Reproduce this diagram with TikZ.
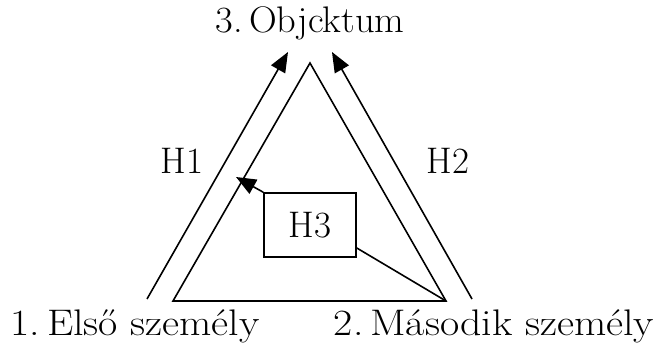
\documentclass[tikz,border=0pt]{standalone}
\usetikzlibrary{arrows.meta}
\begin{document}
\begin{tikzpicture}[x=1pt,y=1pt,
  line/.style={line width=1.6pt},
  arr/.style={line width=1.6pt,-{Triangle[length=20pt,width=16pt]}},
  lbl/.style={font=\fontsize{37}{42}\selectfont, inner sep=0pt},
  wide/.style={lbl, xscale=1.13, transform shape},
  box/.style={draw,line width=1.6pt,minimum width=92pt,minimum height=64pt,inner sep=0pt,font=\fontsize{37}{42}\selectfont}]
\useasboundingbox (0,0) rectangle (661,343);
\coordinate (A) at (310,280);
\coordinate (B) at (173,42);
\coordinate (C) at (446,42);
\coordinate (L1) at (147,44);
\coordinate (L2) at (288,291);
\coordinate (R1) at (472,44);
\coordinate (R2) at (332,291);
\coordinate (H3t) at (236,166);
\draw[line] (A) -- (B) -- (C) -- cycle;
\draw[arr] (L1) -- (L2);
\draw[arr] (R1) -- (R2);
\node[box] (H3) at (310,118) {H3};
\draw[arr] (H3.north west) -- (H3t);
\draw[line] (H3.east |- 0,95) -- (C);
\node[lbl, xscale=1.04, transform shape] (obj) at (310,320) {3.\,Objcktum};
\node[wide] (p1) at (135,17) {1.\,Első személy};
\node[wide] (p2) at (494,17) {2.\,Második személy};
\node[lbl] (h1) at (182,182) {H1};
\node[lbl] (h2) at (448,182) {H2};
\end{tikzpicture}
\end{document}
